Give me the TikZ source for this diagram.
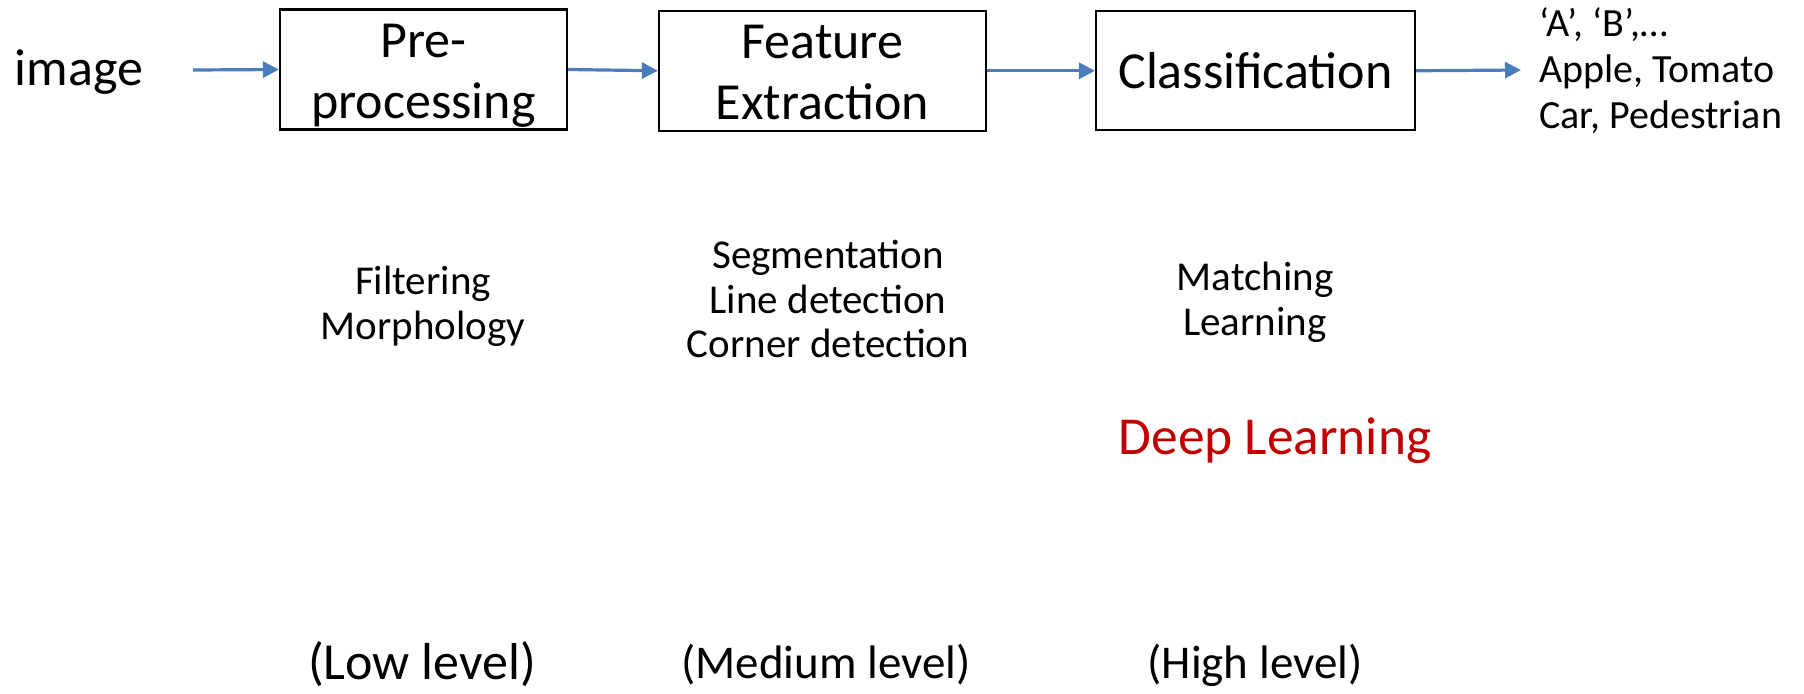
\documentclass[tikz,border=0pt]{standalone}
\usepackage{fontspec}
\setmainfont{Carlito}
\usetikzlibrary{arrows.meta}
\definecolor{flowblue}{HTML}{4A7EBB}
\definecolor{deepred}{HTML}{C00000}
\tikzset{
  stage/.style={draw=black, line width=1.1pt, inner sep=0pt, align=center,
    minimum height=59.5pt, font=\fontsize{26}{30.5}\selectfont},
  flow/.style={draw=flowblue, line width=1.6pt, -{Triangle[length=8pt,width=8pt]}},
  big/.style={inner sep=0pt, align=center, font=\fontsize{26}{27}\selectfont},
  note/.style={inner sep=0pt, align=center, font=\fontsize{20.5}{22.4}\selectfont},
  level/.style={inner sep=0pt, align=center, font=\fontsize{23.5}{25}\selectfont},
}
\newcommand{\topstrut}{\rule{0pt}{24pt}}
\newcommand{\botstrut}{\rule[-5.5pt]{0pt}{0pt}}
\begin{document}
\begin{tikzpicture}[x=0.5pt, y=-0.5pt]
\useasboundingbox (0,0) rectangle (1804,693);

% input label and processing stages
\node[big] (img) at (79,72) {image};
\coordinate (inStart) at (193,70);
\node[stage, minimum width=143.5pt] (pre) at (423.5,69.5) {\topstrut Pre-\\processing\botstrut};
\node[stage, minimum width=163.5pt] (feat) at (822.5,70.75) {\topstrut Feature\\Extraction\botstrut};
\node[stage, minimum width=159.5pt] (cls) at (1255.5,70.75) {Classification};
\coordinate (outEnd) at (1521,70);

% output classes
\node[inner sep=0pt, align=left, anchor=west, font=\fontsize{20}{23}\selectfont] (out) at (1539,71)
  {`A', `B',\ldots\\Apple, Tomato\\Car, Pedestrian};

% flow arrows
\draw[flow] (inStart) -- (pre.west);
\draw[flow] (pre.east) -- (feat.west);
\draw[flow] (feat.east) -- (cls.west);
\draw[flow] (cls.east) -- (outEnd);

% typical operations of each stage
\node[note] (opsLow) at (423,306) {Filtering\\Morphology};
\node[note] (opsMid) at (828,299) {Segmentation\\Line detection\\Corner detection};
\node[note] (opsHigh) at (1255,302) {Matching\\Learning};
\node[inner sep=0pt, text=deepred, font=\fontsize{26.7}{28}\selectfont] (deep) at (1275,441) {Deep Learning};

% processing levels
\node[inner sep=0pt, font=\fontsize{26}{27}\selectfont] (lvLow) at (422,664) {(Low level)};
\node[level] (lvMid) at (826,665) {(Medium level)};
\node[level] (lvHigh) at (1255,665) {(High level)};
\end{tikzpicture}
\end{document}
